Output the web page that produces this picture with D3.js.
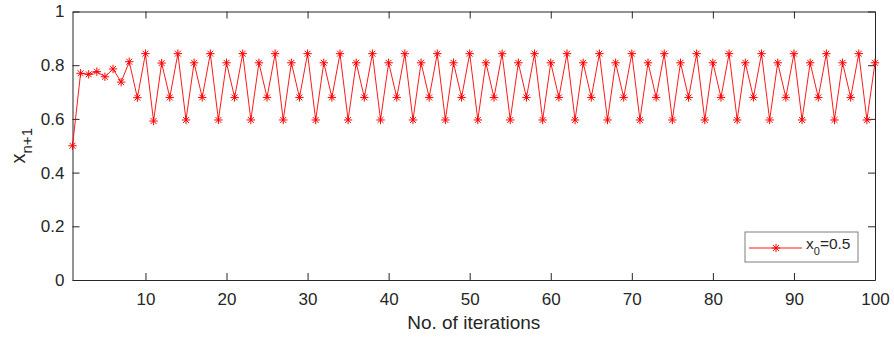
<!DOCTYPE html>
<html>
<head>
<meta charset="utf-8">
<script src="https://cdn.jsdelivr.net/npm/d3@7"></script>
<style>
  body { margin: 0; background: #fff; }
  text { font-family: "Liberation Sans", Arial, sans-serif; fill: #262626; }
</style>
</head>
<body>
<div id="chart"></div>
<script>
// iteration values x_{n+1}, n = 1..100
const xnValues = [
  0.500, 0.770, 0.766, 0.776, 0.757, 0.786, 0.737, 0.813, 0.679, 0.843,
  0.592, 0.808, 0.680, 0.843, 0.596, 0.809, 0.680, 0.843, 0.596, 0.809,
  0.680, 0.843, 0.596, 0.809, 0.680, 0.843, 0.596, 0.809, 0.680, 0.843,
  0.596, 0.809, 0.680, 0.843, 0.596, 0.809, 0.680, 0.843, 0.596, 0.809,
  0.680, 0.843, 0.596, 0.809, 0.680, 0.843, 0.596, 0.809, 0.680, 0.843,
  0.596, 0.809, 0.680, 0.843, 0.596, 0.809, 0.680, 0.843, 0.596, 0.809,
  0.680, 0.843, 0.596, 0.809, 0.680, 0.843, 0.596, 0.809, 0.680, 0.843,
  0.596, 0.809, 0.680, 0.843, 0.596, 0.809, 0.680, 0.843, 0.596, 0.809,
  0.680, 0.843, 0.596, 0.809, 0.680, 0.843, 0.596, 0.809, 0.680, 0.843,
  0.596, 0.809, 0.680, 0.843, 0.596, 0.809, 0.680, 0.843, 0.596, 0.809
];
const xTicks = [10, 20, 30, 40, 50, 60, 70, 80, 90, 100];
const yTicks = [0, 0.2, 0.4, 0.6, 0.8, 1];
const legendLabel = { base: 'x', sub: '0', rest: '=0.5' };

const width = 894;
const height = 339;
const margin = { top: 11.5, right: 19, bottom: 59, left: 72.5 };
const axisColor = '#262626';
const red = '#ff0000';
const tickFont = 17;

const svg = d3.select('#chart')
  .append('svg')
  .attr('width', width)
  .attr('height', height);

const x = d3.scaleLinear()
  .domain([1, 100])
  .range([margin.left, width - margin.right]);

const y = d3.scaleLinear()
  .domain([0, 1])
  .range([height - margin.bottom, margin.top]);

const data = xnValues.map((v, i) => ({ n: i + 1, v: v }));

// box axes, ticks inside like matlab
const tickLen = 7;
const bottomAxis = svg.append('g')
  .attr('transform', `translate(0, ${y(0)})`)
  .call(d3.axisBottom(x).tickValues(xTicks).tickSizeInner(-tickLen).tickSizeOuter(0).tickPadding(13));
const topAxis = svg.append('g')
  .attr('transform', `translate(0, ${y(1)})`)
  .call(d3.axisTop(x).tickValues(xTicks).tickSizeInner(-tickLen).tickSizeOuter(0).tickFormat(''));
const leftAxis = svg.append('g')
  .attr('transform', `translate(${x(1)}, 0)`)
  .call(d3.axisLeft(y).tickValues(yTicks).tickSizeInner(-tickLen).tickSizeOuter(0).tickPadding(8)
    .tickFormat(d => d === 0 || d === 1 ? d3.format('d')(d) : d3.format('.1f')(d)));
const rightAxis = svg.append('g')
  .attr('transform', `translate(${x(100)}, 0)`)
  .call(d3.axisRight(y).tickValues(yTicks).tickSizeInner(-tickLen).tickSizeOuter(0).tickFormat(''));

[bottomAxis, topAxis, leftAxis, rightAxis].forEach(g => {
  g.select('.domain').attr('stroke', axisColor).attr('stroke-width', 1);
  g.selectAll('.tick line').attr('stroke', axisColor).attr('stroke-width', 1);
  g.selectAll('.tick text').attr('font-size', tickFont).attr('fill', axisColor)
    .attr('font-family', '"Liberation Sans", Arial, sans-serif');
});

// line
const line = d3.line()
  .x(d => x(d.n))
  .y(d => y(d.v));

svg.append('path')
  .datum(data)
  .attr('fill', 'none')
  .attr('stroke', red)
  .attr('stroke-width', 0.9)
  .attr('d', line);

// asterisk markers
const s = 4.2;
const star = `M${-s},0H${s}M0,${-s}V${s}M${-s * 0.7},${-s * 0.7}L${s * 0.7},${s * 0.7}M${-s * 0.7},${s * 0.7}L${s * 0.7},${-s * 0.7}`;

svg.append('g')
  .selectAll('path')
  .data(data)
  .enter()
  .append('path')
  .attr('transform', d => `translate(${x(d.n)}, ${y(d.v)})`)
  .attr('d', star)
  .attr('fill', 'none')
  .attr('stroke', red)
  .attr('stroke-width', 1);

// axis labels
svg.append('text')
  .attr('x', (x(1) + x(100)) / 2)
  .attr('y', 329)
  .attr('text-anchor', 'middle')
  .attr('font-size', 19)
  .text('No. of iterations');

const yLab = svg.append('text')
  .attr('transform', `translate(25, ${(y(0) + y(1)) / 2}) rotate(-90)`)
  .attr('text-anchor', 'middle')
  .attr('font-size', 20);
yLab.append('tspan').text('x');
yLab.append('tspan').attr('font-size', 15).attr('dy', 7).text('n+1');

// legend
const lg = svg.append('g').attr('transform', 'translate(745, 232)');
lg.append('rect')
  .attr('width', 113)
  .attr('height', 30)
  .attr('fill', '#fff')
  .attr('stroke', '#7f7f7f')
  .attr('stroke-width', 1);
lg.append('line')
  .attr('x1', 4).attr('x2', 57)
  .attr('y1', 16).attr('y2', 16)
  .attr('stroke', red)
  .attr('stroke-width', 0.9);
lg.append('path')
  .attr('transform', 'translate(31, 16)')
  .attr('d', star)
  .attr('fill', 'none')
  .attr('stroke', red)
  .attr('stroke-width', 1);
const lt = lg.append('text')
  .attr('x', 61)
  .attr('y', 17)
  .attr('font-size', 15.5);
lt.append('tspan').text(legendLabel.base);
lt.append('tspan').attr('font-size', 11).attr('dy', 6).text(legendLabel.sub);
lt.append('tspan').attr('dy', -6).text(legendLabel.rest);
</script>
</body>
</html>
